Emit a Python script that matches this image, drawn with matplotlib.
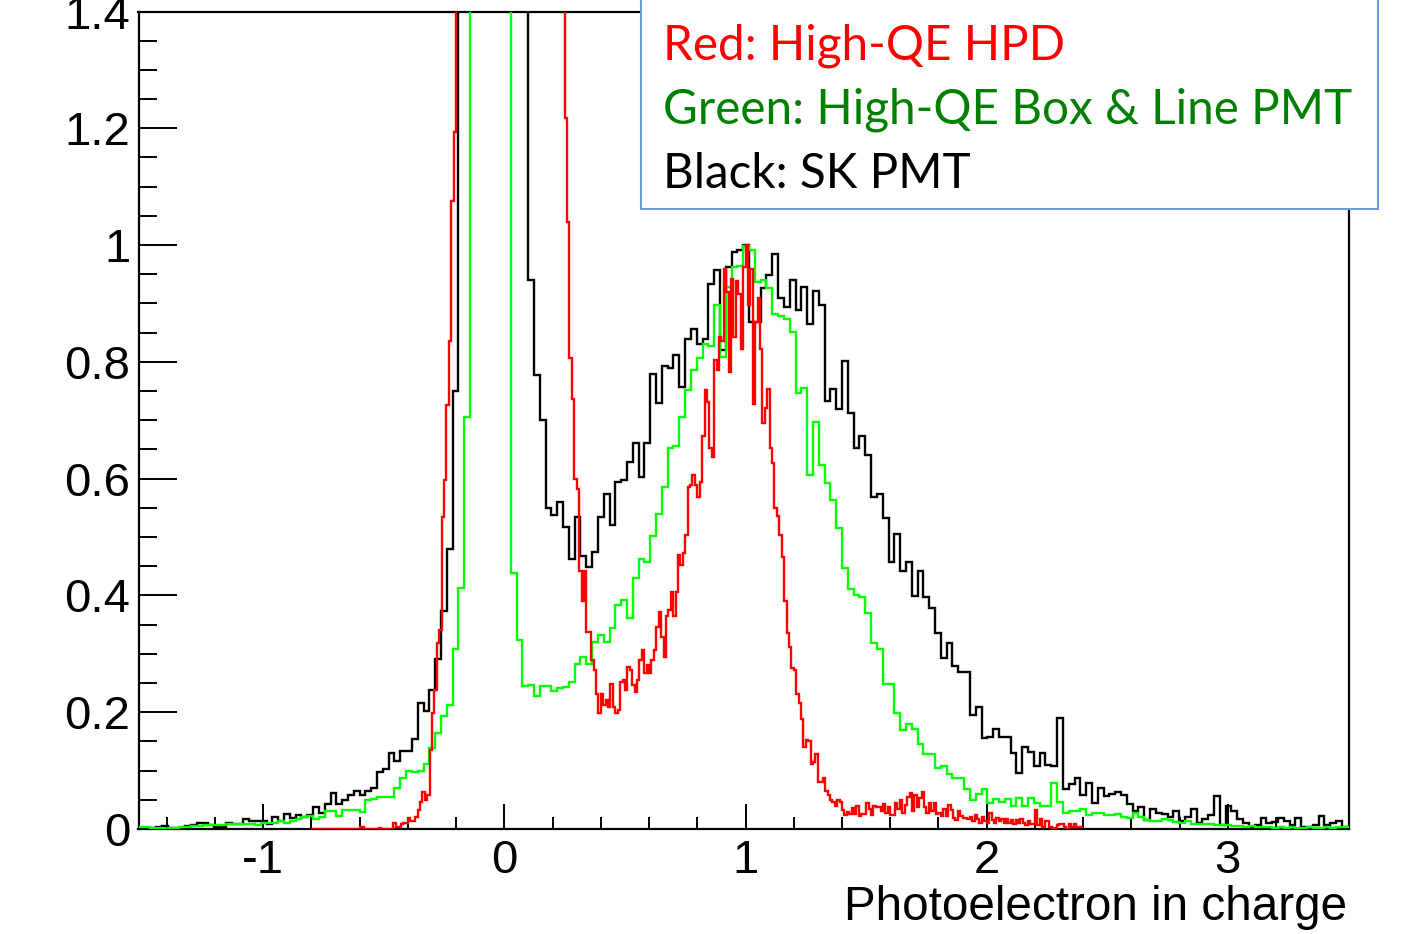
import numpy as np
import matplotlib
matplotlib.use("Agg")
import matplotlib.pyplot as plt
from matplotlib.patches import Rectangle
from matplotlib.ticker import MultipleLocator, FixedLocator

# ---------------- data ----------------
# SK PMT (black), 209 bins; values above 1.4 are off-scale in the picture
black_sk_pmt = [
    0.002, 0.002, 0.002, 0.003, 0.005, 0.002, 0.002, 0.002, 0.005, 0.006,
    0.011, 0.011, 0.006, 0.004, 0.004, 0.011, 0.008, 0.008, 0.017, 0.013,
    0.013, 0.014, 0.008, 0.021, 0.014, 0.026, 0.018, 0.024, 0.021, 0.024,
    0.037, 0.028, 0.043, 0.061, 0.043, 0.050, 0.059, 0.065, 0.059, 0.065,
    0.070, 0.098, 0.102, 0.131, 0.116, 0.134, 0.134, 0.154, 0.215, 0.202,
    0.238, 0.291, 0.374, 0.479, 0.750,
    1.9, 2.6, 3.4, 4.1, 4.6, 4.9, 4.8, 4.4, 3.8, 3.0, 2.2, 1.6,
    0.940, 0.778, 0.700, 0.549, 0.537, 0.560, 0.518, 0.462, 0.534, 0.467,
    0.449, 0.475, 0.535, 0.574, 0.521, 0.594, 0.597, 0.629, 0.661, 0.603,
    0.661, 0.780, 0.729, 0.793, 0.789, 0.812, 0.757, 0.840, 0.856, 0.830,
    0.840,
    0.933, 0.957, 0.820, 0.962, 0.988, 0.991, 1.000, 0.868, 0.868, 0.926,
    0.949, 0.985,
    0.910, 0.894, 0.940, 0.889, 0.929, 0.864, 0.921, 0.897, 0.733, 0.754,
    0.720, 0.801, 0.712, 0.653, 0.673, 0.640, 0.569, 0.573,
    0.532, 0.458, 0.505, 0.442, 0.458, 0.399, 0.441, 0.398, 0.378, 0.335,
    0.292, 0.319, 0.279, 0.269, 0.269, 0.195, 0.209, 0.155, 0.158, 0.171,
    0.157, 0.158, 0.131, 0.096, 0.140, 0.132, 0.108, 0.131, 0.110, 0.108,
    0.190,
    0.068, 0.077, 0.087, 0.058, 0.079, 0.045, 0.071, 0.057, 0.060, 0.064,
    0.058, 0.043, 0.030, 0.037, 0.015, 0.034, 0.028, 0.026, 0.021, 0.030,
    0.014, 0.020, 0.035, 0.010, 0.017, 0.024, 0.057, 0.007, 0.039, 0.030,
    0.017, 0.011, 0.003, 0.007, 0.018, 0.011, 0.012, 0.018, 0.014, 0.007,
    0.018, 0.004, 0.003, 0.007, 0.022, 0.007, 0.010, 0.014, 0.003, 0.003,
]

# High-QE Box & Line PMT (green), same 209 bins
green_box_line = [
    0.004, 0.003, 0.002, 0.001, 0.000, 0.001, 0.002, 0.003, 0.004, 0.005,
    0.005, 0.006, 0.006, 0.006, 0.007, 0.008, 0.008, 0.009, 0.009, 0.009,
    0.006, 0.010, 0.011, 0.011, 0.013,
    0.010, 0.013, 0.017, 0.020, 0.023, 0.017, 0.020, 0.031, 0.031, 0.023,
    0.033, 0.033, 0.033, 0.029, 0.049, 0.052, 0.054, 0.054, 0.055, 0.071,
    0.088, 0.100, 0.097, 0.099, 0.112, 0.138, 0.164, 0.194, 0.212, 0.309,
    0.412, 0.705,
    2.2, 3.5, 4.6, 5.0, 4.5, 3.3, 2.0,
    0.439, 0.324, 0.245, 0.247, 0.228, 0.245, 0.245, 0.237, 0.241,
    0.244, 0.252, 0.283, 0.294, 0.283, 0.321, 0.332, 0.320, 0.345, 0.384,
    0.392, 0.361, 0.430, 0.462, 0.458, 0.502, 0.540, 0.585, 0.652, 0.656,
    0.706, 0.752, 0.786, 0.806, 0.830, 0.827, 0.897, 0.809, 0.929, 0.962,
    0.964,
    0.999, 0.991, 0.936, 0.940, 0.927, 0.882, 0.879, 0.874, 0.851, 0.747,
    0.756, 0.606, 0.697, 0.624, 0.593, 0.564, 0.515, 0.447, 0.411, 0.401,
    0.397, 0.370, 0.319, 0.308,
    0.249, 0.249, 0.199, 0.170, 0.180, 0.172, 0.146, 0.128, 0.128, 0.104,
    0.108, 0.094, 0.087, 0.087, 0.068, 0.050, 0.060, 0.068, 0.044, 0.051,
    0.047, 0.051, 0.039, 0.053, 0.039, 0.053, 0.044, 0.039, 0.039, 0.078,
    0.047, 0.028, 0.031, 0.031, 0.035,
    0.024, 0.027, 0.027, 0.024, 0.024, 0.026, 0.021, 0.018, 0.028, 0.021,
    0.015, 0.013, 0.014, 0.017, 0.015, 0.012, 0.011, 0.013, 0.009, 0.009,
    0.008, 0.008, 0.007, 0.007, 0.006, 0.005, 0.005, 0.004, 0.005, 0.003,
    0.004, 0.003, 0.002, 0.003, 0.002, 0.003, 0.002, 0.002, 0.003, 0.002,
    0.002, 0.003, 0.002, 0.003, 0.003, 0.004,
]

# High-QE HPD (red), 320 bins over [-0.8, 2.4]
red_hpd = [
    0.0, 0.0, 0.0, 0.0, 0.0, 0.0, 0.0, 0.0, 0.0, 0.0,
    0.0, 0.0, 0.0, 0.0, 0.0, 0.0, 0.0, 0.0, 0.0, 0.0,
    0.003, 0.003,
    0.0, 0.0, 0.0, 0.0, 0.0, 0.0,
    0.002,
    0.0, 0.0, 0.0, 0.0, 0.0,
    0.011, 0.003, 0.003, 0.009, 0.011, 0.011, 0.018, 0.014, 0.014, 0.021,
    0.033, 0.047, 0.064, 0.050, 0.058, 0.135, 0.198, 0.238, 0.318, 0.341,
    0.535, 0.598, 0.726, 0.836, 1.075, 1.193,
    1.6, 1.9, 2.3, 2.7, 3.1, 3.5, 3.9, 4.3, 4.6, 4.9,
    5.1, 5.3, 5.4, 5.5, 5.5, 5.4, 5.3, 5.1, 4.9, 4.7,
    4.5, 4.3, 4.1, 3.9, 3.7, 3.5, 3.3, 3.1, 2.9, 2.8,
    2.7, 2.6, 2.5, 2.4, 2.3, 2.2, 2.1, 2.0, 1.9, 1.8,
    1.75, 1.7, 1.6, 1.55, 1.5,
    1.217, 1.040, 0.806, 0.737, 0.600, 0.583, 0.441, 0.391, 0.441, 0.338,
    0.338, 0.289, 0.272, 0.232, 0.198, 0.232, 0.212, 0.221, 0.209, 0.249,
    0.209, 0.198, 0.204, 0.252, 0.255, 0.238, 0.278, 0.272, 0.247, 0.235,
    0.255, 0.289, 0.307, 0.267, 0.281, 0.267, 0.289, 0.307, 0.346, 0.372,
    0.329, 0.295, 0.364, 0.375, 0.406, 0.364, 0.406, 0.469, 0.452, 0.472,
    0.503, 0.586, 0.589, 0.606, 0.589,
    0.569, 0.595, 0.673, 0.751, 0.731, 0.653, 0.637, 0.803, 0.786, 0.842,
    0.835, 0.959, 0.920, 0.783, 0.942, 0.842, 0.939, 0.916, 0.822, 0.962,
    1.000,
    0.897, 0.959, 0.728, 0.868, 0.910, 0.822, 0.695, 0.721, 0.754, 0.653,
    0.627, 0.549, 0.536, 0.504, 0.465, 0.390, 0.335, 0.312, 0.276, 0.273,
    0.231, 0.215, 0.189, 0.140, 0.153, 0.150, 0.111, 0.114, 0.128, 0.081,
    0.081, 0.088, 0.065, 0.059, 0.049, 0.046, 0.039, 0.049, 0.046, 0.033,
    0.024, 0.029, 0.026, 0.036, 0.026, 0.039, 0.023,
    0.026, 0.026, 0.044, 0.034, 0.024, 0.039, 0.037, 0.037,
    0.030, 0.043, 0.027, 0.037, 0.024, 0.024, 0.044, 0.034, 0.050, 0.027,
    0.041, 0.055, 0.061, 0.030, 0.058, 0.038, 0.053, 0.064, 0.038, 0.027,
    0.045, 0.030, 0.045, 0.026, 0.027, 0.022, 0.034, 0.022, 0.041, 0.033,
    0.018, 0.015, 0.030, 0.022, 0.018, 0.018, 0.017, 0.021, 0.014, 0.024,
    0.017, 0.011, 0.021, 0.014, 0.010, 0.027, 0.015, 0.010, 0.018, 0.013,
    0.017, 0.010, 0.017, 0.011, 0.015, 0.009, 0.015, 0.011, 0.017, 0.011,
    0.007, 0.013, 0.009, 0.009, 0.033, 0.007, 0.017, 0.004, 0.013, 0.013,
    0.003, 0.001, 0.001, 0.007, 0.009, 0.009, 0.004, 0.000, 0.009, 0.003,
    0.009, 0.003, 0.004, 0.004,
]

x_ticks = [-1, 0, 1, 2, 3]
x_tick_labels = ["-1", "0", "1", "2", "3"]
y_ticks = [0, 0.2, 0.4, 0.6, 0.8, 1.0, 1.2, 1.4]
y_tick_labels = ["0", "0.2", "0.4", "0.6", "0.8", "1", "1.2", "1.4"]
legend_lines = ["Red: High-QE HPD", "Green: High-QE Box & Line PMT", "Black: SK PMT"]
legend_colors = ["#ff0000", "#008000", "#000000"]
x_label = "Photoelectron in charge"

# ---------------- figure ----------------
W, H = 1405, 934
fig = plt.figure(figsize=(W / 100, H / 100), dpi=100)
fig.patch.set_facecolor("white")

L, R, T, B = 138.5, 1348.5, 11.5, 829.0
ax = fig.add_axes([L / W, 1 - B / H, (R - L) / W, (B - T) / H])

pmt_lo, pmt_w = -1.516, 0.0241
pmt_edges = pmt_lo + pmt_w * np.arange(len(black_sk_pmt) + 1)
hpd_edges = np.linspace(-0.8, 2.4, len(red_hpd) + 1)

ax.stairs(black_sk_pmt, pmt_edges, color="black", lw=1.7, baseline=None, zorder=3)
ax.stairs(green_box_line, pmt_edges, color="#00ff00", lw=1.7, baseline=None, zorder=4)
ax.stairs(red_hpd, hpd_edges, color="#ff0000", lw=1.7, baseline=None, zorder=5)

ax.set_xlim(-1.517, 3.5)
ax.set_ylim(0, 1.4)

for s in ax.spines.values():
    s.set_linewidth(1.6)
    s.set_color("black")

tick_font = "Liberation Sans"
tick_size = 34
ax.xaxis.set_major_locator(FixedLocator(x_ticks))
ax.set_xticklabels(x_tick_labels, fontsize=tick_size, family=tick_font)
ax.xaxis.set_minor_locator(MultipleLocator(0.2))
ax.yaxis.set_major_locator(FixedLocator(y_ticks))
ax.set_yticklabels(y_tick_labels, fontsize=tick_size, family=tick_font)
ax.yaxis.set_minor_locator(MultipleLocator(0.05))

ax.tick_params(axis="x", which="major", direction="in", length=18, width=1.4, pad=7,
               top=False, bottom=True)
ax.tick_params(axis="x", which="minor", direction="in", length=9, width=1.4,
               top=False, bottom=True)
ax.tick_params(axis="y", which="major", direction="in", length=27, width=1.4, pad=6,
               left=True, right=False)
ax.tick_params(axis="y", which="minor", direction="in", length=13, width=1.4,
               left=True, right=False)

fig.canvas.draw()
renderer = fig.canvas.get_renderer()

# x-axis title, right aligned to axis end
xt = fig.text(1347 / W, 1 - 908 / H, x_label, ha="right", va="center",
              fontsize=30, family=tick_font, color="black")
bb = xt.get_window_extent(renderer=renderer)
xt.set_fontsize(30 * 502 / bb.width)

# legend box (sits over the frame, as in the reference)
box = Rectangle((641 / W, 1 - 209 / H), (1378 - 641) / W, (209 + 10) / H,
                transform=fig.transFigure, facecolor="white",
                edgecolor="#6f9bd2", lw=1.5, zorder=10)
fig.add_artist(box)

leg_font = "Lato"
baselines = [60, 124, 188]
probe = fig.text(0, 0, legend_lines[1], fontsize=30, family=leg_font)
pw = probe.get_window_extent(renderer=renderer).width
probe.remove()
leg_size = 30 * 687 / pw
for txt, col, yb in zip(legend_lines, legend_colors, baselines):
    fig.text(663 / W, 1 - yb / H, txt, ha="left", va="baseline", color=col,
             fontsize=leg_size, family=leg_font, zorder=11)

fig.savefig("out.png", dpi=100, facecolor="white")
